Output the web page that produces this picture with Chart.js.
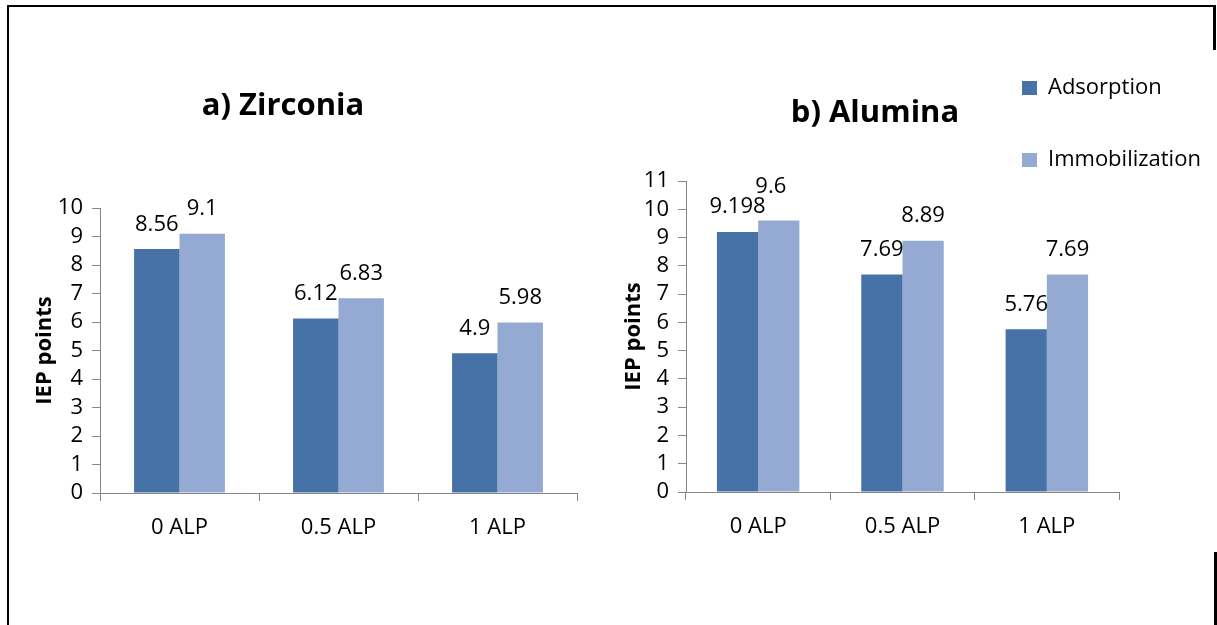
<!DOCTYPE html>
<html>
<head>
<meta charset="utf-8">
<script src="https://cdn.jsdelivr.net/npm/chart.js@4.4.1/dist/chart.umd.min.js"></script>
<style>
  html, body { margin: 0; padding: 0; background: #fff; }
  body { width: 1217px; height: 625px; position: relative; overflow: hidden; }
  .panel { position: absolute; top: 0; height: 625px; }
  .rule { position: absolute; background: #000; }
</style>
</head>
<body>
<div class="panel" style="left:0;width:600px"><canvas id="zirconia"></canvas></div>
<div class="panel" style="left:600px;width:617px"><canvas id="alumina"></canvas></div>

<!-- frame around the figure -->
<div class="rule" style="left:7px;top:5px;width:2px;height:620px"></div>
<div class="rule" style="left:7px;top:5px;width:1209px;height:2px"></div>
<div class="rule" style="left:1213px;top:5px;width:3px;height:45px"></div>
<div class="rule" style="left:1214px;top:552px;width:3px;height:73px"></div>

<script>
// ---- data ----
const categories = ['0 ALP', '0.5 ALP', '1 ALP'];
const seriesNames = ['Adsorption', 'Immobilization'];

const zirconiaAdsorption = [8.56, 6.12, 4.9];
const zirconiaImmobilization = [9.1, 6.83, 5.98];

const aluminaAdsorption = [9.198, 7.69, 5.76];
const aluminaImmobilization = [9.6, 8.89, 7.69];

const zirconiaAxisMax = 10;
const aluminaAxisMax = 11;

const panelTitles = ['a) Zirconia', 'b) Alumina'];
const axisTitle = 'IEP points';

// ---- styling ----
const FONT = "'Open Sans', sans-serif";
const DARK = '#4672A8';
const LIGHT = '#95AAD2';
const AXIS = '#868686';

Chart.defaults.font.family = FONT;
Chart.defaults.color = '#000';

// writes each bar's value above it
const valueLabels = {
  id: 'valueLabels',
  afterDatasetsDraw(chart, args, opts) {
    const ctx = chart.ctx;
    ctx.save();
    ctx.font = opts.size + 'px ' + FONT;
    ctx.fillStyle = '#000';
    ctx.textAlign = 'center';
    ctx.textBaseline = 'alphabetic';
    chart.data.datasets.forEach((ds, di) => {
      chart.getDatasetMeta(di).data.forEach((bar, i) => {
        const n = (opts.nudge && opts.nudge[di] && opts.nudge[di][i]) || [0, 0];
        ctx.fillText(String(ds.data[i]), bar.x + n[0], bar.y - opts.gap + n[1]);
      });
    });
    ctx.restore();
  }
};

// moves the title and legend blocks to fixed spots on the canvas
const placeBlocks = {
  id: 'placeBlocks',
  afterLayout(chart, args, opts) {
    const t = chart.titleBlock;
    if (t && opts.title) {
      const h = t.bottom - t.top;
      t.left = opts.title.cx - 250;
      t.right = opts.title.cx + 250;
      t.width = 500;
      t.top = opts.title.cy - h / 2;
      t.bottom = t.top + h;
    }
    const lg = chart.legend;
    if (lg && opts.legend) {
      lg.left = opts.legend.x;
      lg.top = opts.legend.y;
      lg.right = chart.width;
      lg.bottom = chart.height;
      lg.width = lg.right - lg.left;
      lg.height = lg.bottom - lg.top;
    }
  }
};

function buildChart(id, cfg) {
  return new Chart(document.getElementById(id), {
    type: 'bar',
    data: {
      labels: categories,
      datasets: [
        { label: seriesNames[0], data: cfg.first, backgroundColor: DARK, borderWidth: 0,
          categoryPercentage: 2 / 3.5, barPercentage: 1 },
        { label: seriesNames[1], data: cfg.second, backgroundColor: LIGHT, borderWidth: 0,
          categoryPercentage: 2 / 3.5, barPercentage: 1 }
      ]
    },
    options: {
      responsive: true,
      maintainAspectRatio: false,
      devicePixelRatio: 1,
      animation: false,
      events: [],
      layout: { padding: cfg.padding },
      scales: {
        x: {
          grid: { drawOnChartArea: false, drawTicks: true, tickLength: 8, color: AXIS, offset: true },
          border: { display: true, color: AXIS, width: 1 },
          ticks: { font: { size: 22 }, color: '#000', padding: 14, maxRotation: 0, autoSkip: false },
          afterFit(s) { s.height = cfg.xAxisHeight; }
        },
        y: {
          min: 0,
          max: cfg.max,
          ticks: { stepSize: 1, autoSkip: false, font: { size: 22 }, color: '#000', padding: 9 },
          grid: { drawOnChartArea: false, tickLength: 8, color: AXIS },
          border: { display: true, color: AXIS, width: 1 },
          title: {
            display: true, text: axisTitle, color: '#000',
            font: { size: 22, weight: 'bold' },
            padding: { top: cfg.axisTitlePad, bottom: 0 }
          },
          afterFit(s) { s.width = cfg.yAxisWidth; }
        }
      },
      plugins: {
        title: {
          display: true, text: cfg.title, color: '#000',
          font: { size: 31, weight: 'bold' }, padding: 0
        },
        legend: cfg.legend ? {
          display: true,
          position: 'chartArea',
          align: 'start',
          labels: { font: { size: 22 }, color: '#000', boxWidth: 15, boxHeight: 14, padding: 50 }
        } : { display: false },
        tooltip: { enabled: false },
        valueLabels: { size: 22, gap: 18.5, nudge: cfg.nudge },
        placeBlocks: { title: cfg.titlePos, legend: cfg.legendPos }
      }
    },
    plugins: [valueLabels, placeBlocks]
  });
}

buildChart('zirconia', {
  first: zirconiaAdsorption,
  second: zirconiaImmobilization,
  max: zirconiaAxisMax,
  title: panelTitles[0],
  padding: { left: 0, right: 23, top: 208 - 37.2, bottom: 0 },
  xAxisHeight: 132,
  yAxisWidth: 100,
  axisTitlePad: 31.8,
  titlePos: { cx: 283, cy: 106 },
  legend: false,
  nudge: null
});

buildChart('alumina', {
  first: aluminaAdsorption,
  second: aluminaImmobilization,
  max: aluminaAxisMax,
  title: panelTitles[1],
  padding: { left: 0, right: 98, top: 181 - 37.2, bottom: 0 },
  xAxisHeight: 133,
  yAxisWidth: 86,
  axisTitlePad: 20.8,
  titlePos: { cx: 275, cy: 113 },
  legend: true,
  legendPos: { x: 372, y: 27 },
  nudge: [[[0, 0], [0, 0], [0, 0]], [[-8, -9], [0, 0], [0, 0]]]
});
</script>
</body>
</html>
